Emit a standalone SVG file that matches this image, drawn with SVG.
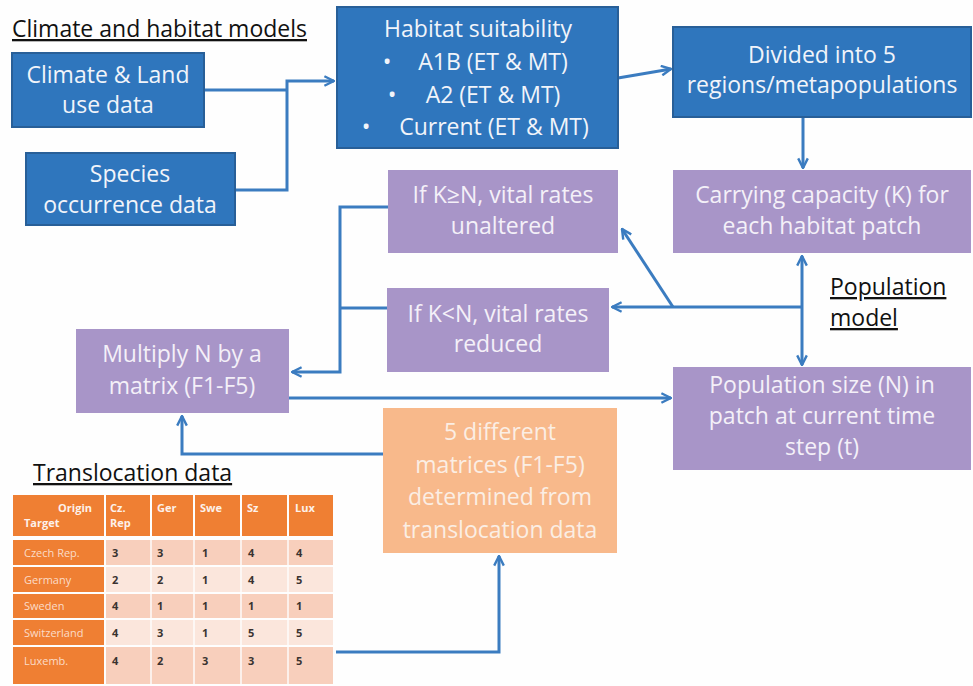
<svg xmlns="http://www.w3.org/2000/svg" width="973" height="686" viewBox="0 0 973 686">
<style>
.t{font-family:"Open Sans","Liberation Sans",sans-serif;font-size:23px;text-anchor:middle;fill:#f1f4fa}
.tp{fill:#f4f0f8}
.to{fill:#fbeee4}
.h{font-family:"Open Sans","Liberation Sans",sans-serif;font-size:23px;fill:#111;text-decoration:underline}
.blue{fill:#2f76bd;stroke:#285f98;stroke-width:2}
.pur{fill:#a895c8}
.org{fill:#f8b98b}
.c{fill:none;stroke:#3b7cc0;stroke-width:3}
.tb{font-family:"Open Sans","Liberation Sans",sans-serif;font-size:11px;font-weight:bold}
.tn{font-family:"Open Sans","Liberation Sans",sans-serif;font-size:11px;font-weight:normal}
.hd{fill:#ef7f33}
.d1{fill:#f8cfbc}
.d2{fill:#fbe6dc}
.wt{fill:#fdf1ea}
.lt{fill:#fbdcc8}
.dk{fill:#3a3330}
</style>
<defs>
<marker id="ah" viewBox="0 0 10 10" refX="9" refY="5" markerWidth="4" markerHeight="4" orient="auto-start-reverse" markerUnits="strokeWidth">
<path d="M1,1 L9,5 L1,9" fill="none" stroke="#3b7cc0" stroke-width="2"/>
</marker>
</defs>
<rect width="973" height="686" fill="#fefefe"/>

<text class="h" x="12" y="37">Climate and habitat models</text>
<text class="h" x="830" y="295">Population</text>
<text class="h" x="830" y="326">model</text>
<text class="h" x="33" y="481">Translocation data</text>

<g id="connectors">
<path class="c" d="M204,90 H287"/>
<path class="c" d="M235,190 H287 V81 H334" marker-end="url(#ah)"/>
<path class="c" d="M618,78 L671,69" marker-end="url(#ah)"/>
<path class="c" d="M803,117 V168" marker-end="url(#ah)"/>
<path class="c" d="M802,256 V365" marker-start="url(#ah)" marker-end="url(#ah)"/>
<path class="c" d="M802,307 H612" marker-end="url(#ah)"/>
<path class="c" d="M673,307 L622,229" marker-end="url(#ah)"/>
<path class="c" d="M388,207 H340 V372 H292" marker-end="url(#ah)"/>
<path class="c" d="M388,308 H340"/>
<path class="c" d="M289,398 H671" marker-end="url(#ah)"/>
<path class="c" d="M383,454 H182 V416" marker-end="url(#ah)"/>
<path class="c" d="M336,652 H499 V556" marker-end="url(#ah)"/>
</g>

<g id="climate">
<rect class="blue" x="12" y="53" width="192" height="74"/>
<text class="t" x="108" y="83">Climate &amp; Land</text>
<text class="t" x="108" y="113">use data</text>
</g>
<g id="species">
<rect class="blue" x="26" y="153" width="209" height="72"/>
<text class="t" x="130" y="182">Species</text>
<text class="t" x="130" y="213">occurrence data</text>
</g>
<g id="habitat">
<rect class="blue" x="337" y="7" width="281" height="141"/>
<text class="t" x="478" y="37">Habitat suitability</text>
<text class="t" x="387" y="70">•</text>
<text class="t" x="493" y="70">A1B (ET &amp; MT)</text>
<text class="t" x="392" y="103">•</text>
<text class="t" x="493" y="103">A2 (ET &amp; MT)</text>
<text class="t" x="366" y="135">•</text>
<text class="t" x="494" y="135">Current (ET &amp; MT)</text>
</g>
<g id="divided">
<rect class="blue" x="673" y="27" width="298" height="90"/>
<text class="t" x="822" y="63">Divided into 5</text>
<text class="t" x="822" y="93">regions/metapopulations</text>
</g>
<g id="carrying">
<rect class="pur" x="673" y="170" width="298" height="83"/>
<text class="t tp" x="822" y="203">Carrying capacity (K) for</text>
<text class="t tp" x="822" y="234">each habitat patch</text>
</g>
<g id="kgeqn">
<rect class="pur" x="388" y="170" width="230" height="83"/>
<text class="t tp" x="503" y="203">If K≥N, vital rates</text>
<text class="t tp" x="503" y="234">unaltered</text>
</g>
<g id="kltn">
<rect class="pur" x="387" y="288" width="222" height="84"/>
<text class="t tp" x="498" y="322">If K&lt;N, vital rates</text>
<text class="t tp" x="498" y="352">reduced</text>
</g>
<g id="multiply">
<rect class="pur" x="76" y="329" width="213" height="84"/>
<text class="t tp" x="182" y="362">Multiply N by a</text>
<text class="t tp" x="182" y="394">matrix (F1-F5)</text>
</g>
<g id="popsize">
<rect class="pur" x="673" y="367" width="298" height="103"/>
<text class="t tp" x="822" y="393">Population size (N) in</text>
<text class="t tp" x="822" y="424">patch at current time</text>
<text class="t tp" x="822" y="455">step (t)</text>
</g>
<g id="matrices">
<rect class="org" x="383" y="408" width="234" height="145"/>
<text class="t to" x="500" y="440">5 different</text>
<text class="t to" x="500" y="473">matrices (F1-F5)</text>
<text class="t to" x="500" y="505">determined from</text>
<text class="t to" x="500" y="538">translocation data</text>
</g>

<g id="table">
<rect class="hd" x="13" y="495" width="91" height="41"/>
<rect class="hd" x="106" y="495" width="44" height="41"/>
<rect class="hd" x="152" y="495" width="41" height="41"/>
<rect class="hd" x="195" y="495" width="45" height="41"/>
<rect class="hd" x="242" y="495" width="45" height="41"/>
<rect class="hd" x="289" y="495" width="44" height="41"/>
<text class="tb wt" x="92" y="512" text-anchor="end">Origin</text>
<text class="tb wt" x="24" y="527">Target</text>
<text class="tb wt" x="110" y="512">Cz.</text>
<text class="tb wt" x="110" y="527">Rep</text>
<text class="tb wt" x="157" y="512">Ger</text>
<text class="tb wt" x="200" y="512">Swe</text>
<text class="tb wt" x="247" y="512">Sz</text>
<text class="tb wt" x="295" y="512">Lux</text>

<rect class="hd" x="13" y="540" width="91" height="25"/>
<rect class="d1" x="106" y="540" width="227" height="25"/>
<rect class="hd" x="13" y="567" width="91" height="25"/>
<rect class="d2" x="106" y="567" width="227" height="25"/>
<rect class="hd" x="13" y="594" width="91" height="24"/>
<rect class="d1" x="106" y="594" width="227" height="24"/>
<rect class="hd" x="13" y="620" width="91" height="25"/>
<rect class="d2" x="106" y="620" width="227" height="25"/>
<rect class="hd" x="13" y="647" width="91" height="37"/>
<rect class="d1" x="106" y="647" width="227" height="37"/>
<g stroke="#fff" stroke-width="2" opacity="0.7">
<path d="M151,540 V684 M194,540 V684 M241,540 V684 M288,540 V684"/>
</g>
<text class="tn lt" x="24" y="557">Czech Rep.</text>
<text class="tn lt" x="24" y="584">Germany</text>
<text class="tn lt" x="24" y="610">Sweden</text>
<text class="tn lt" x="24" y="637">Switzerland</text>
<text class="tn lt" x="24" y="665">Luxemb.</text>
<g class="tb dk">
<text x="112" y="557">3</text><text x="157" y="557">3</text><text x="202" y="557">1</text><text x="248" y="557">4</text><text x="296" y="557">4</text>
<text x="112" y="584">2</text><text x="157" y="584">2</text><text x="202" y="584">1</text><text x="248" y="584">4</text><text x="296" y="584">5</text>
<text x="112" y="610">4</text><text x="157" y="610">1</text><text x="202" y="610">1</text><text x="248" y="610">1</text><text x="296" y="610">1</text>
<text x="112" y="637">4</text><text x="157" y="637">3</text><text x="202" y="637">1</text><text x="248" y="637">5</text><text x="296" y="637">5</text>
<text x="112" y="665">4</text><text x="157" y="665">2</text><text x="202" y="665">3</text><text x="248" y="665">3</text><text x="296" y="665">5</text>
</g>
</g>
</svg>
